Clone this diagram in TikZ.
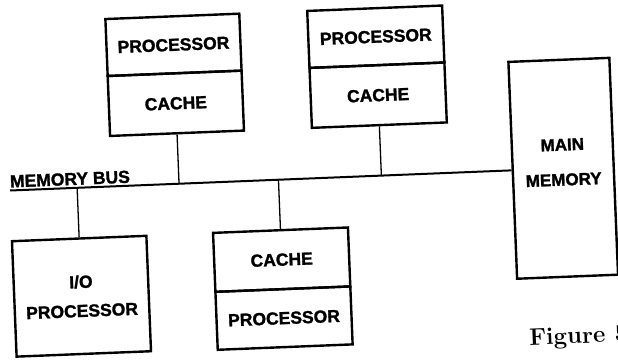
\documentclass[tikz,border=0pt]{standalone}
\usepackage{fontspec}
\newfontfamily\hv[BoldFeatures={FakeBold=1.5}]{Liberation Sans}
\begin{document}
\begin{tikzpicture}[x=1pt,y=-1pt,
  box/.style={draw,line width=2.4pt,rectangle,inner sep=0pt,
    font=\hv\bfseries\fontsize{17.5}{21}\selectfont,align=center},
  wire/.style={line width=1.3pt},
  bus/.style={line width=2pt}]
\useasboundingbox (0,0) rectangle (618,360);
\clip (0,0) rectangle (618,360);
\begin{scope}[rotate around={2.3:(309,180)},transform shape]
  % top left
  \node[box,minimum width=134pt,minimum height=57pt] (proc1) at (179,39.5) {PROCESSOR};
  \node[box,minimum width=134pt,minimum height=60pt] (cache1) at (179,98) {CACHE};
  % top right
  \node[box,minimum width=135pt,minimum height=57pt] (proc2) at (381.5,39.5) {PROCESSOR};
  \node[box,minimum width=135pt,minimum height=60pt] (cache2) at (381.5,98) {CACHE};
  % main memory
  \node[box,minimum width=101pt,minimum height=217pt] (mem) at (563.5,178.5) {};
  \node[font=\hv\bfseries\fontsize{17}{35}\selectfont,align=center,inner sep=0pt] (memlabel) at (563.5,172.5) {MAIN\\MEMORY};
  % bottom left
  \node[box,minimum width=134.5pt,minimum height=115.5pt,font=\hv\bfseries\fontsize{17.5}{29}\selectfont] (io) at (77,287) {I/O\\PROCESSOR};
  % bottom middle
  \node[box,minimum width=135pt,minimum height=59pt] (cache3) at (278.5,258.5) {CACHE};
  \node[box,minimum width=135pt,minimum height=58pt] (proc3) at (278.5,317) {PROCESSOR};
  % bus
  \coordinate (busL) at (10,178.5);
  \draw[bus] (busL) -- (mem.west);
  \node[anchor=base west,inner sep=0pt,font=\hv\bfseries\fontsize{17.5}{21}\selectfont] (buslabel) at (10,175.5) {MEMORY BUS};
  % connectors
  \draw[wire] (cache1.south) -- (cache1.south |- busL);
  \draw[wire] (cache2.south) -- (cache2.south |- busL);
  \draw[wire] (io.north) -- (io.north |- busL);
  \draw[wire] (cache3.north) -- (cache3.north |- busL);
  % caption
  \node[anchor=base west,inner sep=0pt,font=\bfseries\fontsize{24}{28}\selectfont] (fig) at (522.5,354) {Figure 5};
\end{scope}
\end{tikzpicture}
\end{document}
